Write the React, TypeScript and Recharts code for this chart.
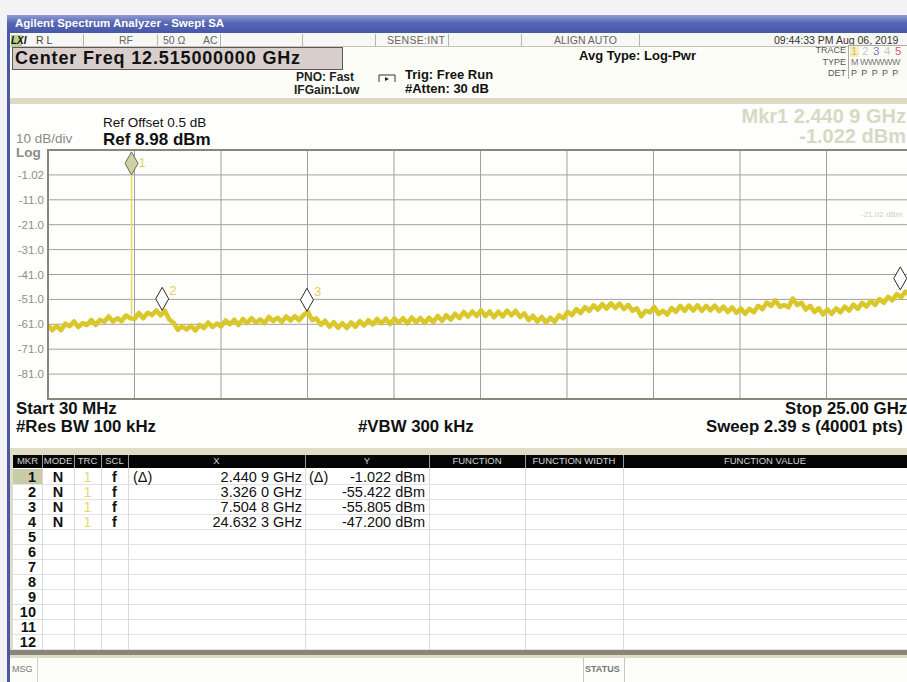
import React from 'react';
import { ComposedChart, Line, Scatter, XAxis, YAxis, CartesianGrid, ReferenceLine } from 'recharts';

// ---------------- data ----------------
const START_GHZ = 0.03;
const STOP_GHZ = 25.0;
const STEP_GHZ = 0.125;
const TRACE_DBM = [
  -61.3, -63.4, -61.7, -63.4, -60.8, -61.8, -59.9, -62.1, -60.6, -61.3,
  -59.3, -61.3, -59.2, -60.0, -57.9, -59.9, -58.6, -59.7, -57.5, -58.6,
  -58.9, -56.5, -58.6, -56.4, -57.3, -55.5, -57.4, -55.6, -59.1, -60.4,
  -63.2, -61.8, -63.1, -61.6, -63.5, -61.3, -62.5, -60.3, -62.1, -60.7,
  -61.9, -59.5, -61.0, -59.2, -61.3, -58.9, -60.5, -58.6, -60.4, -59.0,
  -60.6, -58.1, -59.7, -58.4, -60.0, -57.9, -59.5, -57.8, -59.4, -57.3,
  -56.0, -59.3, -58.7, -61.2, -59.6, -62.0, -60.2, -62.4, -60.6, -62.5,
  -60.3, -62.0, -59.8, -61.5, -59.4, -61.1, -58.9, -60.6, -58.8, -60.9,
  -58.7, -60.4, -58.6, -60.7, -58.3, -60.2, -58.5, -60.5, -58.4, -60.1,
  -57.7, -59.6, -57.4, -59.1, -56.8, -58.5, -56.1, -57.9, -55.9, -57.6,
  -55.4, -57.7, -55.9, -58.2, -56.0, -57.9, -55.5, -57.4, -55.6, -58.1,
  -56.7, -59.3, -57.6, -59.9, -58.1, -60.3, -58.4, -60.0, -57.4, -58.6,
  -56.0, -57.3, -54.9, -56.5, -54.1, -55.6, -53.4, -55.1, -52.9, -54.7,
  -52.6, -54.5, -52.7, -54.9, -53.2, -55.6, -54.6, -57.8, -55.6, -56.2,
  -54.0, -56.9, -55.6, -57.1, -54.5, -56.0, -53.6, -55.6, -53.5, -55.5,
  -53.4, -55.6, -53.6, -55.4, -53.5, -55.7, -53.9, -56.1, -54.2, -56.4,
  -54.7, -56.8, -54.8, -56.2, -53.6, -54.9, -52.3, -53.6, -51.4, -54.0,
  -53.3, -54.2, -50.7, -53.2, -52.4, -55.1, -53.6, -56.1, -54.6, -57.0,
  -55.1, -56.8, -54.6, -56.2, -53.9, -55.5, -53.1, -54.8, -52.4, -53.9,
  -51.6, -53.2, -50.9, -52.4, -50.0, -51.4, -48.9, -50.2, -47.9, -49.2,
];
const TRACE_END_DBM = -48.0;

const X_TICKS = [0.03, 2.527, 5.024, 7.521, 10.018, 12.515, 15.012, 17.509, 20.006, 22.503, 25.0];
const Y_TICKS = [8.98, -1.02, -11.02, -21.02, -31.02, -41.02, -51.02, -61.02, -71.02, -81.02, -91.02];
const Y_DOMAIN = [-91.02, 8.98];

const MARKER_IDS = ['1', '2', '3', '4'];
const MARKER_GHZ = [2.4409, 3.326, 7.5048, 24.6323];
const MARKER_DBM = [-1.022, -55.422, -55.805, -47.2];
const TONE_FLOOR_DBM = -57.5;

const TABLE_MKR = ['1', '2', '3', '4', '5', '6', '7', '8', '9', '10', '11', '12'];
const TABLE_MODE = ['N', 'N', 'N', 'N'];
const TABLE_TRC = ['1', '1', '1', '1'];
const TABLE_SCL = ['f', 'f', 'f', 'f'];
const TABLE_XFN = ['(Δ)', '', '', ''];
const TABLE_X = ['2.440 9 GHz', '3.326 0 GHz', '7.504 8 GHz', '24.632 3 GHz'];
const TABLE_YFN = ['(Δ)', '', '', ''];
const TABLE_Y = ['-1.022 dBm', '-55.422 dBm', '-55.805 dBm', '-47.200 dBm'];
const TABLE_HEADERS = ['MKR', 'MODE', 'TRC', 'SCL', 'X', 'Y', 'FUNCTION', 'FUNCTION WIDTH', 'FUNCTION VALUE'];
const TABLE_COL_EDGES = [13, 42, 74, 101, 128, 305, 429, 525, 623, 907];

// ---------------- derived ----------------
const traceData = TRACE_DBM.map((v, i) => ({ f: START_GHZ + i * STEP_GHZ, v }));
traceData.push({ f: STOP_GHZ, v: TRACE_END_DBM });
const markerData = MARKER_IDS.map((id, i) => ({ id, f: MARKER_GHZ[i], v: MARKER_DBM[i] }));

const FONT = "'Liberation Sans', Arial, Helvetica, sans-serif";
const TRACE_COLOR = '#dac82a';
const LABEL_YELLOW = '#e2d24c';

const A = (left: number, top: number, extra: any = {}): React.CSSProperties => ({
  position: 'absolute', left, top, lineHeight: 1.1, ...extra,
});

const YTick = (props: any) => {
  const { y, payload } = props;
  const v = payload.value;
  if (v > 0 || v < -90) return null;
  return (
    <text x={36} y={y} dy={4} textAnchor="end" fill="#8e8e8e" fontSize={11.5} fontFamily={FONT}>
      {Number(v).toPrecision(3)}
    </text>
  );
};

const renderMarker = (props: any) => {
  const { cx, cy, payload } = props;
  const first = payload.id === '1';
  const w = 6.5;
  const h = 23;
  const pts = `${cx},${cy} ${cx + w},${cy - h / 2} ${cx},${cy - h} ${cx - w},${cy - h / 2}`;
  const ly = Math.max(cy - 15, 27);
  return (
    <g>
      <polygon points={pts} fill={first ? '#cdd2a4' : '#ffffff'} stroke={first ? '#6b6b55' : '#2a2a2a'} strokeWidth={1} />
      <text x={cx + 7} y={ly} fill={LABEL_YELLOW} fontSize={13} fontFamily={FONT}>{payload.id}</text>
    </g>
  );
};

const App = () => {
  const statusSeps = [83, 157, 220, 302, 375, 448, 521, 639];
  return (
    <div style={{ position: 'absolute', left: 0, top: 0, width: 907, height: 682, overflow: 'hidden', background: '#f3f3f6', fontFamily: FONT }}>
      {/* window left border */}
      <div style={A(7, 15, { width: 3, height: 667, background: '#4a5aa8' })} />
      {/* title bar */}
      <div style={A(7, 15, { width: 900, height: 18, background: 'linear-gradient(#909cd4, #5666b4 45%, #4858a8)' })}>
        <span style={{ position: 'absolute', left: 8, top: 2, color: '#fff', fontWeight: 'bold', fontSize: 11.5, lineHeight: 1.1 }}>
          Agilent Spectrum Analyzer - Swept SA
        </span>
      </div>
      {/* status row */}
      <div style={A(10, 33, { width: 897, height: 14, background: '#f7f7f3', borderBottom: '1px solid #c4c4bc', boxSizing: 'border-box' })} />
      {statusSeps.map((x) => (
        <div key={x} style={A(x, 34, { width: 1, height: 12, background: '#b4b4ac' })} />
      ))}
      <div style={A(11, 35, { width: 11, height: 11, background: '#b9d28a' })} />
      <span style={A(11, 35, { fontSize: 10, fontWeight: 'bold', fontStyle: 'italic', color: '#111' })}>LXI</span>
      <span style={A(36, 35, { fontSize: 10.5, color: '#444' })}>R L</span>
      <span style={A(119, 35, { fontSize: 10.5, color: '#666' })}>RF</span>
      <span style={A(163, 35, { fontSize: 10.5, color: '#666' })}>50 Ω</span>
      <span style={A(203, 35, { fontSize: 10.5, color: '#666' })}>AC</span>
      <span style={A(387, 35, { fontSize: 10.5, color: '#666', letterSpacing: 0.3 })}>SENSE:INT</span>
      <span style={A(554, 35, { fontSize: 10.5, color: '#666' })}>ALIGN AUTO</span>
      <span style={A(774, 35, { fontSize: 10.5, color: '#333', whiteSpace: 'nowrap' })}>09:44:33 PM Aug 06, 2019</span>

      {/* header area */}
      <div style={A(10, 47, { width: 897, height: 52, background: '#fdfdf8' })} />
      <div style={A(12, 47, { width: 331, height: 23, background: '#d8cecb', border: '1px solid #5e5656', boxSizing: 'border-box' })}>
        <span style={{ position: 'absolute', left: 2, top: 1, fontSize: 18, lineHeight: 1.1, fontWeight: 'bold', letterSpacing: 0.85, color: '#111', whiteSpace: 'nowrap' }}>
          Center Freq 12.515000000 GHz
        </span>
      </div>
      <span style={A(296, 71, { fontSize: 12, fontWeight: 'bold', color: '#222' })}>PNO: Fast</span>
      <span style={A(294, 84, { fontSize: 12, fontWeight: 'bold', color: '#222' })}>IFGain:Low</span>
      <svg style={A(376, 73)} width={22} height={12}>
        <path d="M3 2 L19 2 L19 9 M3 9 L3 2" fill="none" stroke="#333" strokeWidth={1} />
        <polygon points="9,4 13,6 9,8" fill="#222" />
      </svg>
      <span style={A(405, 68, { fontSize: 13, fontWeight: 'bold', color: '#111' })}>Trig: Free Run</span>
      <span style={A(405, 82, { fontSize: 13, fontWeight: 'bold', color: '#111' })}>#Atten: 30 dB</span>
      <span style={A(579, 49, { fontSize: 13, fontWeight: 'bold', color: '#111' })}>Avg Type: Log-Pwr</span>
      <span style={A(813, 46, { fontSize: 9, color: '#555', width: 33, textAlign: 'right' })}>TRACE</span>
      <span style={A(813, 58, { fontSize: 9, color: '#555', width: 33, textAlign: 'right' })}>TYPE</span>
      <span style={A(813, 69, { fontSize: 9, color: '#555', width: 33, textAlign: 'right' })}>DET</span>
      <div style={A(848, 45, { width: 70, height: 33, borderLeft: '1px solid #aaa', borderTop: '1px solid #aaa', background: '#fbfbf6' })} />
      <div style={A(850, 46, { width: 9, height: 11, background: '#f4eec0' })} />
      <span style={A(851, 45, { fontSize: 11.5, color: '#d7b94c' })}>1</span>
      <span style={A(862, 45, { fontSize: 11.5, color: '#b9cde0' })}>2</span>
      <span style={A(873, 45, { fontSize: 11.5, color: '#8474c0' })}>3</span>
      <span style={A(884, 45, { fontSize: 11.5, color: '#c8c8c8' })}>4</span>
      <span style={A(895, 45, { fontSize: 11.5, color: '#e05858' })}>5</span>
      <span style={A(851, 58, { fontSize: 9, color: '#777', whiteSpace: 'nowrap', letterSpacing: -0.5 })}>M WWWWW</span>
      <span style={A(851, 69, { fontSize: 9, color: '#555', whiteSpace: 'nowrap', wordSpacing: 2 })}>P P P P P</span>

      {/* plot panel */}
      <div style={A(10, 98, { width: 897, height: 6, background: '#ddd9c2' })} />
      <div style={A(10, 104, { width: 897, height: 344, background: '#fefefc' })} />
      <span style={A(103, 116, { fontSize: 13.5, color: '#111' })}>Ref Offset 0.5 dB</span>
      <span style={A(103, 131, { fontSize: 17, fontWeight: 'bold', color: '#111' })}>Ref 8.98 dBm</span>
      <span style={A(16, 133, { fontSize: 13.5, color: '#8a8a8a', lineHeight: '12px' })}>10 dB/div</span>
      <span style={A(16, 147, { fontSize: 13.5, fontWeight: 'bold', color: '#8a8a8a', lineHeight: '11px' })}>Log</span>
      <span style={A(596, 105, { width: 310, textAlign: 'right', fontSize: 20, fontWeight: 'bold', color: '#d6d9c3', whiteSpace: 'nowrap' })}>Mkr1 2.440 9 GHz</span>
      <span style={A(596, 125, { width: 310, textAlign: 'right', fontSize: 20, fontWeight: 'bold', color: '#d6d9c3', whiteSpace: 'nowrap' })}>-1.022 dBm</span>
      <span style={A(861, 211, { fontSize: 8, color: '#cfcfc0', whiteSpace: 'nowrap' })}>-21.02 dBm</span>

      <div style={A(8, 140)}>
        <ComposedChart width={905} height={269} data={traceData} margin={{ top: 10, right: 0, bottom: 10, left: 0 }}>
          <CartesianGrid stroke="#a0a0a0" strokeWidth={1} />
          <XAxis dataKey="f" type="number" domain={[START_GHZ, STOP_GHZ]} ticks={X_TICKS} hide allowDataOverflow />
          <YAxis type="number" domain={Y_DOMAIN} ticks={Y_TICKS} width={40} axisLine={false} tickLine={false} interval={0} tick={YTick} allowDataOverflow />
          <ReferenceLine
            segment={[{ x: MARKER_GHZ[0], y: MARKER_DBM[0] }, { x: MARKER_GHZ[0], y: TONE_FLOOR_DBM }]}
            stroke="#e8dc66"
            strokeWidth={1.5}
          />
          <Line dataKey="v" type="linear" stroke={TRACE_COLOR} strokeWidth={4.6} strokeLinejoin="round" dot={false} isAnimationActive={false} />
          <Scatter data={markerData} dataKey="v" shape={renderMarker} isAnimationActive={false} />
        </ComposedChart>
      </div>
      <div style={A(47, 149, { width: 866, height: 251, border: '2px solid #8c857a', boxSizing: 'border-box', pointerEvents: 'none' })} />

      <span style={A(16, 400, { fontSize: 16.8, fontWeight: 'bold', color: '#111' })}>Start 30 MHz</span>
      <span style={A(16, 418, { fontSize: 16.8, fontWeight: 'bold', color: '#111' })}>#Res BW 100 kHz</span>
      <span style={A(358, 418, { fontSize: 16.8, fontWeight: 'bold', color: '#111' })}>#VBW 300 kHz</span>
      <span style={A(785, 400, { fontSize: 16.8, fontWeight: 'bold', color: '#111', whiteSpace: 'nowrap' })}>Stop 25.00 GHz</span>
      <span style={A(706, 418, { fontSize: 16.8, fontWeight: 'bold', color: '#111', whiteSpace: 'nowrap' })}>Sweep  2.39 s (40001 pts)</span>

      {/* marker table */}
      <div style={A(10, 448, { width: 897, height: 210, background: '#e0dcc6' })} />
      <div style={A(13, 455, { width: 894, height: 13, background: '#050505' })} />
      {TABLE_HEADERS.map((h, i) => (
        <span key={h} style={A(TABLE_COL_EDGES[i], 456, { width: TABLE_COL_EDGES[i + 1] - TABLE_COL_EDGES[i], textAlign: 'center', fontSize: 9.5, color: '#d4d4d4', whiteSpace: 'nowrap' })}>{h}</span>
      ))}
      {TABLE_COL_EDGES.slice(1, -1).map((x) => (
        <div key={'h' + x} style={A(x, 455, { width: 1, height: 13, background: '#9a9a9a' })} />
      ))}
      <div style={A(13, 468, { width: 894, height: 182, background: '#ffffff' })} />
      {TABLE_MKR.map((_, r) => (
        <div key={'r' + r} style={A(13, 470 + r * 15 + 14, { width: 894, height: 1, background: '#e2e2e2' })} />
      ))}
      {TABLE_COL_EDGES.slice(1, -1).map((x) => (
        <div key={'c' + x} style={A(x, 468, { width: 1, height: 182, background: '#dadada' })} />
      ))}
      <div style={A(13, 469, { width: 29, height: 15, background: '#c9cba8' })} />
      {TABLE_MKR.map((m, r) => (
        <span key={'m' + r} style={A(13, 469 + r * 15, { width: 23, textAlign: 'right', fontSize: 14.5, fontWeight: 'bold', color: '#111', lineHeight: '16px' })}>{m}</span>
      ))}
      {TABLE_MODE.map((v, r) => (
        <span key={'mo' + r} style={A(42, 469 + r * 15, { width: 32, textAlign: 'center', fontSize: 14.5, fontWeight: 'bold', color: '#111', lineHeight: '16px' })}>{v}</span>
      ))}
      {TABLE_TRC.map((v, r) => (
        <span key={'t' + r} style={A(74, 469 + r * 15, { width: 27, textAlign: 'center', fontSize: 14.5, color: '#e4dc6a', lineHeight: '16px' })}>{v}</span>
      ))}
      {TABLE_SCL.map((v, r) => (
        <span key={'s' + r} style={A(101, 469 + r * 15, { width: 27, textAlign: 'center', fontSize: 14.5, fontWeight: 'bold', color: '#111', lineHeight: '16px' })}>{v}</span>
      ))}
      {TABLE_XFN.map((v, r) => (
        <span key={'xf' + r} style={A(133, 469 + r * 15, { fontSize: 14.5, color: '#111', lineHeight: '16px' })}>{v}</span>
      ))}
      {TABLE_X.map((v, r) => (
        <span key={'x' + r} style={A(128, 469 + r * 15, { width: 174, textAlign: 'right', fontSize: 14.5, color: '#111', lineHeight: '16px', whiteSpace: 'nowrap' })}>{v}</span>
      ))}
      {TABLE_YFN.map((v, r) => (
        <span key={'yf' + r} style={A(309, 469 + r * 15, { fontSize: 14.5, color: '#111', lineHeight: '16px' })}>{v}</span>
      ))}
      {TABLE_Y.map((v, r) => (
        <span key={'y' + r} style={A(305, 469 + r * 15, { width: 120, textAlign: 'right', fontSize: 14.5, color: '#111', lineHeight: '16px', whiteSpace: 'nowrap' })}>{v}</span>
      ))}
      <div style={A(10, 650, { width: 897, height: 5, background: '#8c867a' })} />
      <div style={A(10, 658, { width: 897, height: 24, background: '#fdfdf9' })} />
      <span style={A(12, 665, { fontSize: 9, color: '#777' })}>MSG</span>
      <div style={A(37, 658, { width: 1, height: 24, background: '#d0d0c8' })} />
      <div style={A(583, 658, { width: 42, height: 24, borderLeft: '1px solid #c8c8c0', borderRight: '1px solid #c8c8c0', boxSizing: 'border-box' })} />
      <span style={A(585, 665, { fontSize: 9, fontWeight: 'bold', color: '#777' })}>STATUS</span>
    </div>
  );
};

export default App;
